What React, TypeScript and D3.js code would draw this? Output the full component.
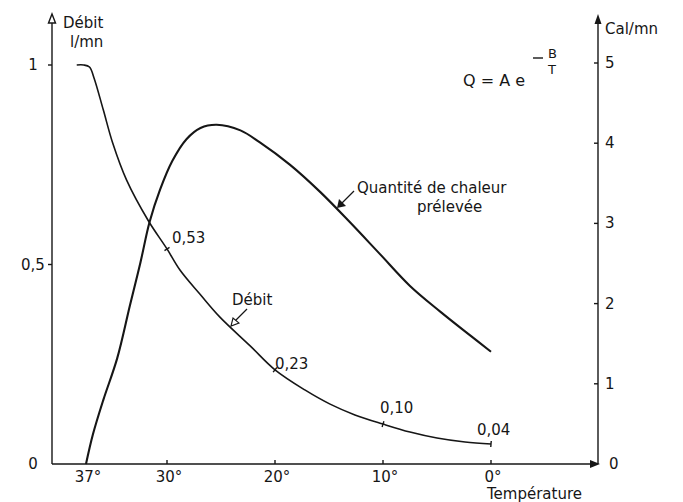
import React from 'react';
import * as d3 from 'd3';

// temperature ticks (deg C), left axis (l/mn), right axis (Cal/mn)
const tempTicks = [37, 30, 20, 10, 0];
const debitTicks = [0, 0.5, 1];
const debitTickLabels = ['0', '0,5', '1'];
const calTicks = [0, 1, 2, 3, 4, 5];

// Débit curve
const debitTemp = [37.8, 37.2, 36.7, 36.3, 35.5, 34.7, 33.5, 31.6, 30, 28.8, 26.9, 25.1, 22.3, 20, 17.2, 14.9, 12.6, 10, 7.5, 5, 2.4, 0];
const debitVal = [1, 1, 0.995, 0.967, 0.887, 0.805, 0.712, 0.609, 0.539, 0.486, 0.424, 0.368, 0.296, 0.236, 0.185, 0.15, 0.123, 0.1, 0.08, 0.065, 0.055, 0.05];

// Quantité de chaleur prélevée
const chaleurTemp = [37, 36.4, 35.5, 34.3, 33.2, 32.3, 31.5, 30.6, 29.5, 28.2, 26.9, 25.4, 23.2, 21.4, 18.6, 15.8, 13.1, 10.3, 7.5, 4.7, 1.9, 0];
const chaleurVal = [0, 0.37, 0.8, 1.32, 1.98, 2.51, 3.02, 3.42, 3.78, 4.05, 4.19, 4.23, 4.16, 4.01, 3.73, 3.39, 3.02, 2.62, 2.22, 1.9, 1.6, 1.4];

// marked débit values
const markTemp = [30, 20, 10, 0];
const markLabels = ['0,53', '0,23', '0,10', '0,04'];

const W = 683;
const H = 502;
const font = '"DejaVu Sans", sans-serif';
const ink = '#161616';

export default function App() {
  const x = d3.scaleLinear().domain([37, 30, 0]).range([86, 167, 491]);
  const yL = d3.scaleLinear().domain([0, 1]).range([464, 65]);
  const yR = d3.scaleLinear().domain([0, 5]).range([464, 63]);

  const debit = debitTemp.map((t, i) => [x(t), yL(debitVal[i])] as [number, number]);
  const chaleur = chaleurTemp.map((t, i) => [x(t), yR(chaleurVal[i])] as [number, number]);

  const line = d3.line().curve(d3.curveCatmullRom.alpha(0.5));

  // small cross marks on the débit curve
  const marks = markTemp.map((t) => {
    const i = debitTemp.indexOf(t);
    const a = debit[Math.max(i - 1, 0)];
    const b = debit[Math.min(i + 1, debit.length - 1)];
    const dx = b[0] - a[0];
    const dy = b[1] - a[1];
    const len = Math.hypot(dx, dy);
    return { p: debit[i], nx: -dy / len, ny: dx / len };
  });

  const labelPos = [
    [172, 243],
    [275, 369],
    [380, 413],
    [477, 435],
  ];

  const y0 = yL(0);
  const xl = 52;
  const xr = 598;

  return (
    <svg width={W} height={H} style={{ position: 'absolute', left: 0, top: 0, background: '#fff' }}>
      <g stroke={ink} strokeWidth={1.4} fill="none">
        {/* axes */}
        <line x1={xl} y1={y0} x2={xl} y2={20} />
        <line x1={xr} y1={y0} x2={xr} y2={20} />
        <line x1={xl} y1={y0} x2={592} y2={y0} />
      </g>
      <path d={`M${xl - 3.5},${23} L${xl},${14} L${xl + 3.5},${23} Z`} fill="#fff" stroke={ink} strokeWidth={1.4} />
      <path d={`M${xr - 3.5},${24} L${xr},${14} L${xr + 3.5},${24} Z`} fill={ink} />
      <path d={`M590,${y0 - 4} L600,${y0} L590,${y0 + 4} Z`} fill={ink} />

      {/* left ticks */}
      {debitTicks.map((v, i) => (
        <g key={'l' + v}>
          {v > 0 && <line x1={xl - 4} x2={xl} y1={yL(v)} y2={yL(v)} stroke={ink} strokeWidth={1.4} />}
          <text x={33} y={yL(v) + 5} textAnchor="middle" fontFamily={font} fontSize={15} fill={ink}>
            {debitTickLabels[i]}
          </text>
        </g>
      ))}

      {/* right ticks */}
      {calTicks.map((v) => (
        <g key={'r' + v}>
          {v > 0 && <line x1={xr - 4} x2={xr} y1={yR(v)} y2={yR(v)} stroke={ink} strokeWidth={1.4} />}
          <text x={v > 0 ? 605 : 609} y={yR(v) + 5} fontFamily={font} fontSize={15} fill={ink}>
            {v}
          </text>
        </g>
      ))}

      {/* temperature ticks */}
      {tempTicks.map((t) => (
        <g key={'t' + t}>
          {t !== 37 && <line x1={x(t)} x2={x(t)} y1={y0} y2={y0 - 4} stroke={ink} strokeWidth={1.4} />}
          <text x={x(t) + 2} y={482} textAnchor="middle" fontFamily={font} fontSize={15} fill={ink}>
            {t + '°'}
          </text>
        </g>
      ))}

      {/* curves */}
      <path d={line(debit) || ''} fill="none" stroke={ink} strokeWidth={1.6} />
      <path d={line(chaleur) || ''} fill="none" stroke={ink} strokeWidth={2.1} />

      {marks.map((m, i) => (
        <line
          key={'m' + i}
          x1={m.p[0] - m.nx * 3}
          y1={m.p[1] - m.ny * 3}
          x2={m.p[0] + m.nx * 3}
          y2={m.p[1] + m.ny * 3}
          stroke={ink}
          strokeWidth={1.4}
        />
      ))}
      {markLabels.map((s, i) => (
        <text key={'ml' + i} x={labelPos[i][0]} y={labelPos[i][1]} fontFamily={font} fontSize={15} fill={ink}>
          {s}
        </text>
      ))}

      {/* axis titles */}
      <g fontFamily={font} fontSize={15} fill={ink}>
        <text x={63} y={28}>Débit</text>
        <text x={70} y={47}>l/mn</text>
        <text x={605} y={34}>Cal/mn</text>
        <text x={487} y={499}>Température</text>
        <text x={357} y={193}>Quantité de chaleur</text>
        <text x={417} y={212}>prélevée</text>
        <text x={232} y={305}>Débit</text>
      </g>

      {/* formula */}
      <g fontFamily={font} fill={ink}>
        <text x={463} y={86} fontSize={16}>Q = A e</text>
        <line x1={533} x2={543} y1={58} y2={58} stroke={ink} strokeWidth={1.4} />
        <text x={548} y={58} fontSize={13}>B</text>
        <text x={548} y={74} fontSize={13}>T</text>
      </g>

      {/* annotation arrows */}
      <line x1={354} y1={191} x2={341} y2={204} stroke={ink} strokeWidth={1.3} />
      <path d="M337,208 L339,199 L346,206 Z" fill={ink} />
      <line x1={247} y1={309} x2={235} y2={321} stroke={ink} strokeWidth={1.3} />
      <path d="M231,326 L233,318 L239,323 Z" fill="#fff" stroke={ink} strokeWidth={1.1} />
    </svg>
  );
}
